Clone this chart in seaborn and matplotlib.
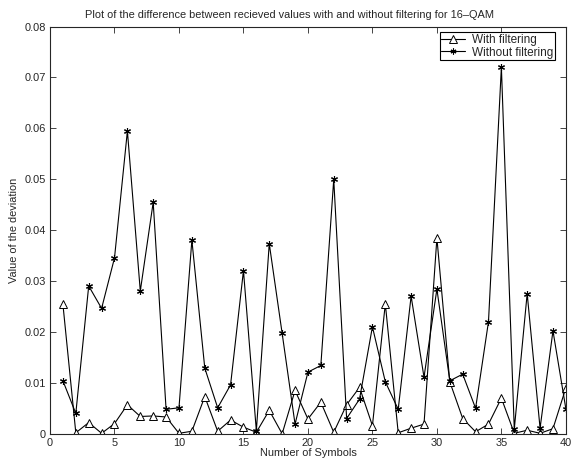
import numpy as np
import pandas as pd
import seaborn as sns
from matplotlib import pyplot as plt

symbols = list(range(1, 41))
with_filt = [0.0255, 0.0003, 0.0023, 0.0002, 0.0021, 0.0058, 0.0035, 0.0036, 0.0034, 0.0002,
             0.0006, 0.0074, 0.0006, 0.0028, 0.0014, 0.0004, 0.0047, 0.0001, 0.0086, 0.0030,
             0.0063, 0.0004, 0.0058, 0.0092, 0.0017, 0.0256, 0.0003, 0.0012, 0.0020, 0.0385,
             0.0103, 0.0031, 0.0005, 0.0020, 0.0071, 0.0002, 0.0008, 0.0002, 0.0011, 0.0091]
without_filt = [0.0105, 0.0041, 0.0291, 0.0247, 0.0346, 0.0595, 0.0281, 0.0455, 0.0049, 0.0052,
                0.0381, 0.0130, 0.0052, 0.0097, 0.0321, 0.0007, 0.0374, 0.0198, 0.0020, 0.0122,
                0.0135, 0.0500, 0.0031, 0.0069, 0.0211, 0.0103, 0.0049, 0.0271, 0.0112, 0.0285,
                0.0105, 0.0118, 0.0051, 0.0221, 0.0720, 0.0010, 0.0276, 0.0012, 0.0203, 0.0050]

df = pd.DataFrame({"sym": symbols, "with": with_filt, "without": without_filt})

sns.set_style("ticks")
plt.rcParams['font.family'] = ['Liberation Sans', 'DejaVu Sans']
fs = 7.9

fig = plt.figure(figsize=(5.71, 4.65), dpi=100)
ax = fig.add_axes([0.0876, 0.066, 0.9034, 0.877])

sns.lineplot(data=df, x="sym", y="with", ax=ax, color="black", lw=0.8,
             marker="^", markersize=6, markerfacecolor="white", markeredgecolor="black",
             markeredgewidth=0.7, label="With filtering")
sns.lineplot(data=df, x="sym", y="without", ax=ax, color="black", lw=0.8,
             marker=(6, 2, 0), markersize=5, markeredgecolor="black",
             markeredgewidth=0.8, label="Without filtering")

ax.set_xlim(0, 40)
ax.set_ylim(0, 0.08)
ax.set_xticks(range(0, 41, 5))
ax.set_yticks(np.arange(0, 0.081, 0.01))
ax.set_yticklabels(["0", "0.01", "0.02", "0.03", "0.04", "0.05", "0.06", "0.07", "0.08"])
ax.tick_params(direction="in", top=True, right=True, length=4, width=0.6, labelsize=fs, pad=3)
for s in ax.spines.values():
    s.set_linewidth(0.8)
    s.set_visible(True)

ax.set_xlabel("Number of Symbols", fontsize=fs, labelpad=0)
ax.set_ylabel("Value of the deviation", fontsize=fs, labelpad=4)
ax.set_title("Plot of the difference between recieved values with and without filtering for 16\u2013QAM",
             fontsize=fs, pad=6, x=0.465)

leg = ax.legend(loc="upper right", bbox_to_anchor=(0.979, 0.986), fancybox=False,
                edgecolor="black", framealpha=1, fontsize=fs + 0.6, borderpad=0.15,
                handlelength=2.0, handletextpad=0.6, labelspacing=0.05, borderaxespad=0,
                markerscale=0.85)
leg.get_frame().set_linewidth(0.8)

fig.savefig("out.png", dpi=100)
